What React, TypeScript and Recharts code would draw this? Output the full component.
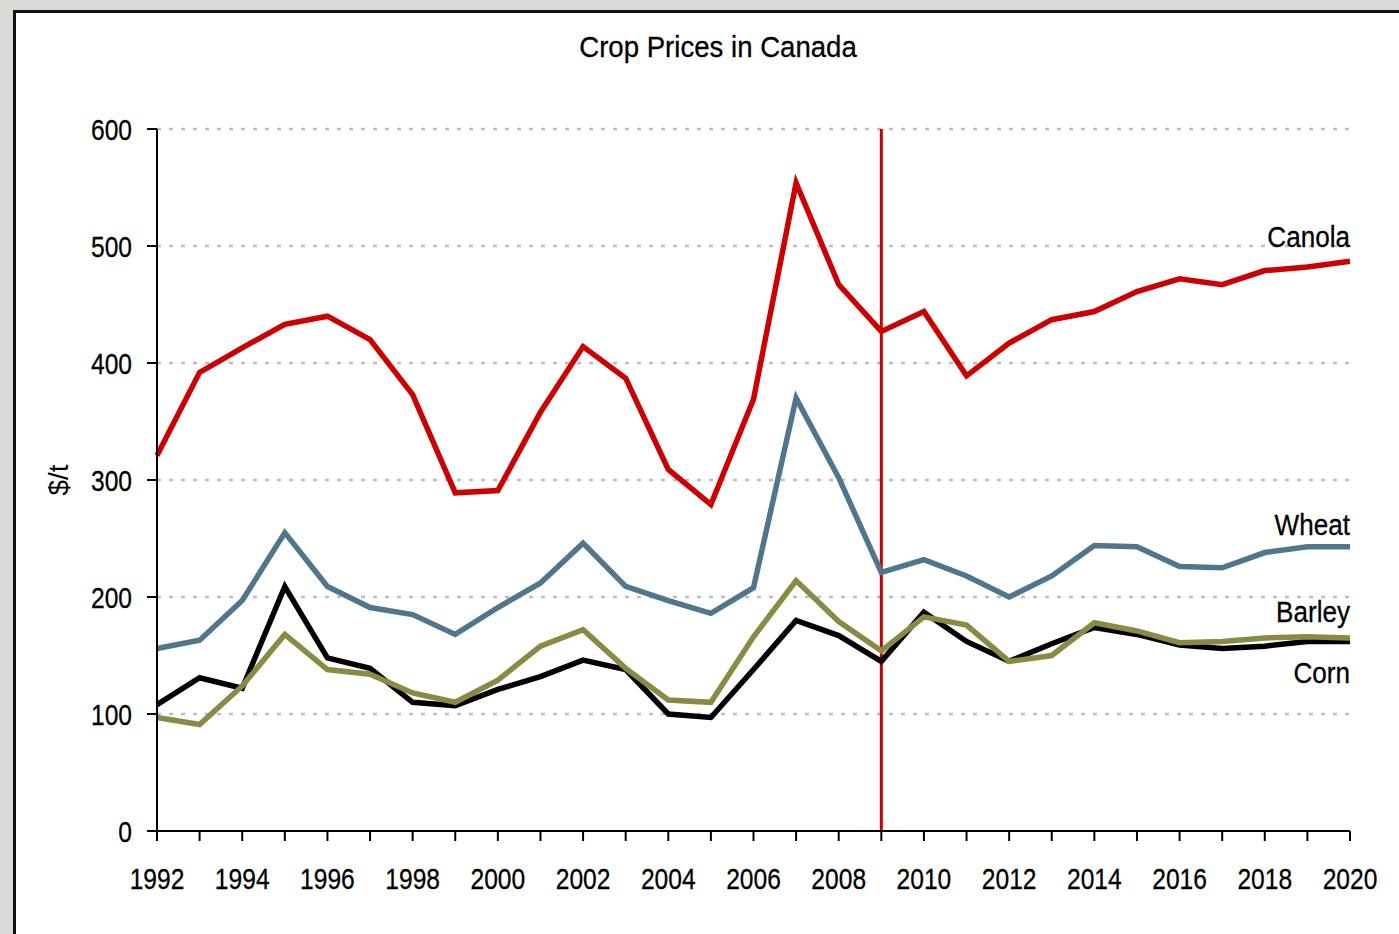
import React from "react";
import { LineChart, Line, XAxis, YAxis, CartesianGrid, ReferenceLine } from "recharts";

const years = [1992,1993,1994,1995,1996,1997,1998,1999,2000,2001,2002,2003,2004,2005,2006,2007,2008,2009,2010,2011,2012,2013,2014,2015,2016,2017,2018,2019,2020];
const canola = [321,392,413,433,440,420,373,289,291,358,414,387,309,279,369,554,467,427,444,389,417,437,444,461,472,467,479,482,487];
const wheat = [156,163,197,255,209,191,185,168,191,212,246,209,197,186,208,370,302,221,232,218,200,218,244,243,226,225,238,243,243];
const barley = [97,91,124,168,138,134,118,110,129,158,172,139,112,110,166,214,179,154,183,176,145,150,178,171,161,162,165,166,165];
const corn = [108,131,122,209,148,139,110,107,121,132,146,138,100,97,138,180,167,145,187,162,145,160,174,168,159,156,158,162,162];
const yTicks = [0,100,200,300,400,500,600];
const seriesNames = ["Canola","Wheat","Barley","Corn"];

const data = years.map((y, i) => ({ year: y, Canola: canola[i], Wheat: wheat[i], Barley: barley[i], Corn: corn[i] }));

const FONT = '"Liberation Sans", Arial, sans-serif';
const labelOffsets: Record<string, number> = { Canola: -14, Wheat: -12, Barley: -16, Corn: 42 };
const colors: Record<string, string> = { Canola: "#cc0000", Wheat: "#50768c", Barley: "#8b8a45", Corn: "#000000" };

const makeLabel = (name: string) => (props: any) => {
  const { x, y, index } = props;
  if (index !== years.length - 1) return null;
  return (
    <g transform={`translate(${x},${y + labelOffsets[name]})`}>
      <text transform="scale(0.9,1)" textAnchor="end" fontFamily={FONT} fontSize={29} fill="#000" stroke="#000" strokeWidth={0.3}>
        {name}
      </text>
    </g>
  );
};

const XTick = (props: any) => {
  const { x, y, payload } = props;
  const v = payload.value;
  if (v % 2 !== 0) return null;
  return (
    <g transform={`translate(${x},${y})`}>
      <text transform="scale(0.82,1)" textAnchor="middle" y={22} fontFamily={FONT} fontSize={30} fill="#000" stroke="#000" strokeWidth={0.3}>
        {String(v)}
      </text>
    </g>
  );
};

const YTick = (props: any) => {
  const { x, y, payload } = props;
  return (
    <g transform={`translate(${x},${y})`}>
      <text transform="scale(0.82,1)" textAnchor="end" y={10.5} fontFamily={FONT} fontSize={30} fill="#000" stroke="#000" strokeWidth={0.3}>
        {String(payload.value)}
      </text>
    </g>
  );
};

export default function App() {
  return (
    <div style={{ position: "fixed", left: 0, top: 0, width: 1399, height: 934, background: "#d9d9d6", overflow: "hidden" }}>
      <div style={{ position: "absolute", left: 13, top: 10, width: 1400, height: 940, background: "#fff", borderLeft: "3px solid #111", borderTop: "3px solid #111" }} />
      <svg style={{ position: "absolute", left: 0, top: 0 }} width={1399} height={90}>
        <g transform="translate(718,57)">
          <text transform="scale(0.92,1)" textAnchor="middle" fontFamily={FONT} fontSize={30} fill="#000" stroke="#000" strokeWidth={0.3}>Crop Prices in Canada</text>
        </g>
      </svg>
      <div style={{ position: "absolute", left: 0, top: 0 }}>
        <LineChart width={1399} height={934} data={data} margin={{ top: 129, right: 49, bottom: 0, left: 0 }}>
          <CartesianGrid vertical={false} horizontal stroke="#bdbdbd" strokeWidth={2.5} strokeDasharray="4 8" horizontalValues={[100,200,300,400,500,600]} />
          <XAxis
            dataKey="year"
            type="number"
            domain={[1992, 2020]}
            ticks={years}
            interval={0}
            height={103}
            tickSize={10}
            tickMargin={26}
            axisLine={{ stroke: "#000", strokeWidth: 2 }}
            tickLine={{ stroke: "#000", strokeWidth: 2 }}
            tick={<XTick />}
          />
          <YAxis
            type="number"
            domain={[0, 600]}
            ticks={yTicks}
            width={157}
            tickSize={10}
            tickMargin={15}
            axisLine={{ stroke: "#000", strokeWidth: 2 }}
            tickLine={{ stroke: "#000", strokeWidth: 2 }}
            tick={<YTick />}
            label={{ value: "$/t", angle: -90, position: "insideLeft", offset: 58, style: { fontFamily: FONT, fontSize: 28, fill: "#000", textAnchor: "middle" } }}
          />
          <ReferenceLine x={2009} stroke="#cc0000" strokeWidth={3} />
          {seriesNames.slice().reverse().map((name) => (
            <Line
              key={name}
              dataKey={name}
              type="linear"
              stroke={colors[name]}
              strokeWidth={5.5}
              dot={false}
              activeDot={false}
              isAnimationActive={false}
              label={makeLabel(name)}
            />
          ))}
        </LineChart>
      </div>
    </div>
  );
}
